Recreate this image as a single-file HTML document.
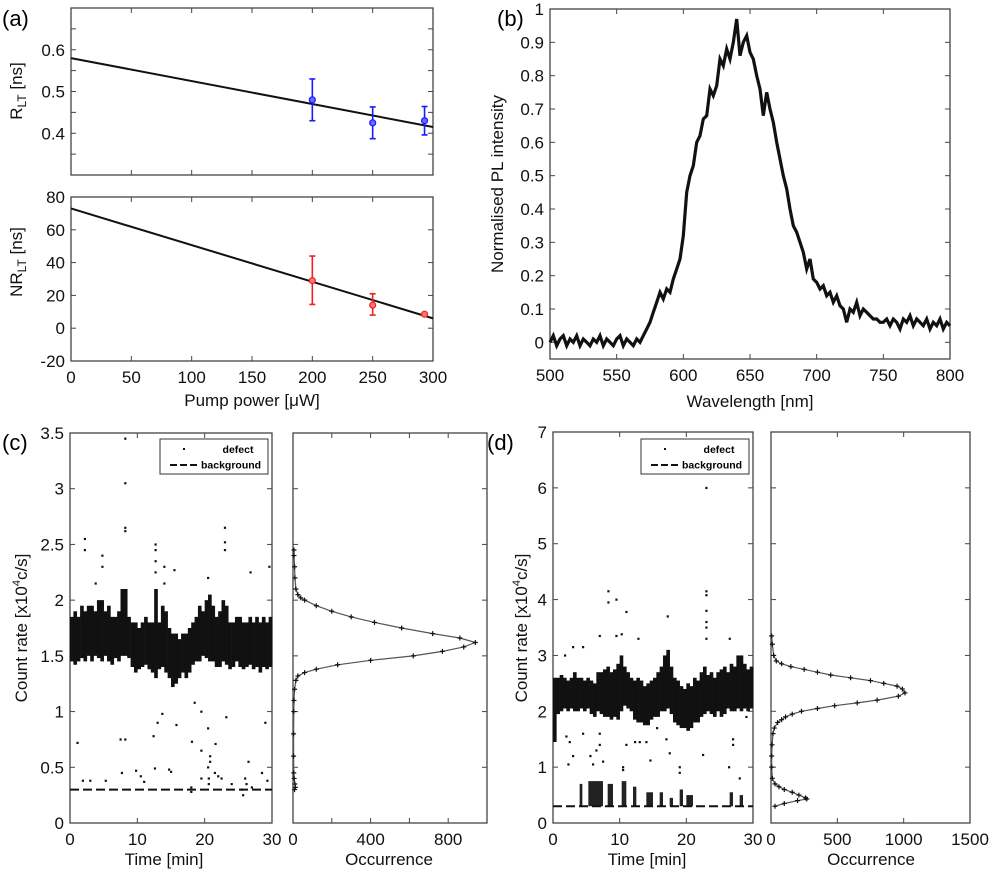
<!DOCTYPE html>
<html><head><meta charset="utf-8"><style>
html,body{margin:0;padding:0;background:#fff}
svg{display:block;font-family:"Liberation Sans",Arial,sans-serif}
</style></head><body>
<svg id="fig" width="990" height="870" viewBox="0 0 990 870" xmlns="http://www.w3.org/2000/svg">
<text x="2" y="26" font-size="22">(a)</text>
<text x="497" y="26" font-size="22">(b)</text>
<text x="2" y="450" font-size="22">(c)</text>
<text x="487" y="450" font-size="22">(d)</text>
</svg>
<script>
// ---------- data ----------
const powerA = [200, 250, 293];
const rltVals = [0.48, 0.425, 0.43];
const rltErr = [0.05, 0.038, 0.034];
const rltFit = [0.58, 0.415];
const nrVals = [29, 14, 8.5];
const nrLo = [14.5, 8, 7.5];
const nrHi = [44, 21, 9.5];
const nrFit = [73, 6];
const fitX = [0, 300];

const wlStart = 500, wlStep = 2.5;
const plVals = [0.00,0.02,-0.01,0.01,0.02,-0.01,0.01,0.00,0.02,-0.01,0.01,0.00,-0.01,0.01,0.00,0.02,-0.01,0.01,0.00,-0.01,0.01,0.02,-0.01,0.01,0.00,-0.01,0.01,0.00,0.02,0.04,0.06,0.09,0.12,0.15,0.13,0.16,0.15,0.19,0.22,0.25,0.32,0.45,0.50,0.53,0.60,0.62,0.67,0.68,0.76,0.74,0.77,0.85,0.83,0.88,0.85,0.90,0.97,0.86,0.90,0.92,0.87,0.85,0.80,0.76,0.68,0.75,0.70,0.66,0.60,0.55,0.50,0.46,0.40,0.35,0.33,0.30,0.27,0.22,0.25,0.19,0.18,0.16,0.17,0.14,0.15,0.12,0.14,0.11,0.10,0.06,0.10,0.09,0.12,0.08,0.10,0.09,0.08,0.07,0.07,0.06,0.06,0.07,0.05,0.07,0.06,0.04,0.07,0.06,0.08,0.05,0.07,0.06,0.05,0.07,0.04,0.06,0.05,0.07,0.04,0.06,0.05];

const binStep = 0.5;
const cLo = [1.45,1.42,1.45,1.48,1.45,1.5,1.45,1.5,1.48,1.45,1.5,1.45,1.42,1.48,1.45,1.5,1.5,1.48,1.4,1.35,1.38,1.4,1.42,1.38,1.35,1.3,1.38,1.4,1.35,1.3,1.22,1.25,1.3,1.35,1.3,1.35,1.42,1.45,1.45,1.5,1.48,1.45,1.45,1.4,1.4,1.45,1.42,1.38,1.4,1.45,1.4,1.38,1.4,1.42,1.38,1.4,1.35,1.4,1.38,1.4];
const cHi = [1.85,1.9,1.85,1.95,1.9,1.95,1.95,1.9,2.0,2.0,1.9,1.95,1.85,1.85,1.9,2.1,2.1,1.85,1.8,1.8,1.75,1.8,1.85,1.8,1.8,2.1,1.8,1.95,1.9,1.75,1.7,1.7,1.65,1.7,1.7,1.75,1.8,1.85,1.95,1.9,2.0,2.05,1.95,1.85,1.9,2.0,1.95,1.8,1.8,1.85,1.85,1.8,1.8,1.85,1.8,1.85,1.8,1.85,1.8,1.85];
const cOutT = [8.2,8.2,8.2,8.2,2.2,2.2,23,23,23,12.7,12.7,12.7,12.7,14,14,15.5,4.8,4.8,26.8,29.6,20.5,3.8,1.1,7.5,8.2,13,13.7,12.4,15.8,18.5,18.1,19.5,19.5,20.5,20.8,20.8,21.6,26.5,29,23.2,9.8,10.5,7.7,12.6,14.7,15,1.9,3,5.3,11,18,19.5,20.6,21.5,22.5,24,25.5,25.7,26.2,28.5,29.3,26,27,18,20.5,20.6,22];
const cOutV = [3.45,3.05,2.65,2.62,2.55,2.45,2.65,2.52,2.45,2.5,2.45,2.35,2.25,2.3,2.15,2.27,2.4,2.3,2.25,2.3,2.2,2.15,0.72,0.75,0.75,0.9,0.98,0.78,0.88,1.08,0.73,1.0,0.65,0.85,0.6,0.55,0.71,0.55,0.9,0.95,0.47,0.42,0.45,0.49,0.48,0.46,0.38,0.38,0.38,0.37,0.32,0.4,0.35,0.45,0.4,0.35,0.3,0.25,0.35,0.45,0.38,0.4,0.32,0.28,0.5,0.4,0.42];
const cBackground = 0.3;
const cHistRate = [2.45,2.4,2.3,2.2,2.1,2.05,2.02,2.0,1.95,1.9,1.85,1.8,1.75,1.7,1.66,1.62,1.58,1.54,1.5,1.46,1.42,1.38,1.35,1.32,1.28,1.2,1.1,1.0,0.8,0.6,0.45,0.4,0.35,0.32,0.3];
const cHistCount = [5,5,8,10,15,25,40,60,120,200,300,420,560,720,860,940,880,770,620,400,230,120,60,25,15,8,5,4,3,3,4,6,10,12,8];

const dLo = [1.45,1.95,2.0,2.05,2.0,2.05,2.0,2.0,2.05,2.0,2.05,1.95,1.9,2.0,1.95,1.9,1.9,1.85,1.9,1.85,2.0,2.1,2.05,2.0,1.85,1.8,1.8,1.75,1.75,1.85,1.9,1.9,2.0,2.0,2.05,1.95,1.8,1.75,1.7,1.7,1.65,1.7,1.8,1.8,1.9,1.95,2.0,1.95,1.9,2.0,1.9,1.95,2.05,2.0,2.0,2.05,2.0,2.05,2.0,2.05];
const dHi = [2.6,2.6,2.65,2.6,2.55,2.6,2.7,2.6,2.6,2.55,2.6,2.55,2.5,2.7,2.7,2.75,2.8,2.7,2.75,2.85,3.0,2.8,2.7,2.6,2.55,2.6,2.55,2.45,2.5,2.55,2.6,2.7,2.8,3.0,3.1,2.8,2.6,2.55,2.45,2.4,2.5,2.45,2.6,2.55,2.7,2.8,2.65,2.7,2.6,2.7,2.75,2.8,2.7,2.85,2.8,3.0,3.0,2.85,2.75,2.8];
const dLowStart = [4.0,5.3,8.2,10.3,12.0,14.0,16.0,17.5,19.0,20.0,26.5,28.0];
const dLowEnd = [4.4,7.5,9.0,11.0,12.5,15.0,16.5,18.0,19.5,21.0,27.0,28.5];
const dLowTop = [0.7,0.75,0.7,0.75,0.65,0.55,0.55,0.45,0.6,0.5,0.55,0.5];
const dOutT = [8.3,8.3,9.5,11,17.2,23,23,23,23,23,23,23,7,9.5,10.3,12.8,4.5,3,1.8,26.5,22.5,2,2.5,3,4.5,5.6,6,6.5,7,7,10.5,10.5,11,12.3,13,14,14.6,15.6,17,17.5,19,19,20,26.4,27,27,28,29,2.3,7.5];
const dOutV = [4.15,3.95,4.0,3.78,3.7,6.0,4.15,4.08,3.8,3.6,3.5,3.3,3.35,3.35,3.38,3.3,3.15,3.15,3.0,3.3,1.22,1.55,1.45,1.2,1.6,1.2,1.05,1.3,1.4,1.6,1.0,0.95,1.4,1.45,1.45,1.45,1.12,1.7,1.5,1.25,1.0,0.9,1.8,1.0,1.5,1.4,0.8,1.9,1.05,1.1];
const dBackground = 0.3;
const dHistRate = [3.35,3.2,3.0,2.9,2.85,2.8,2.75,2.7,2.65,2.6,2.55,2.5,2.45,2.4,2.33,2.27,2.2,2.15,2.1,2.05,2.0,1.95,1.9,1.85,1.8,1.7,1.6,1.4,1.2,1.0,0.8,0.7,0.65,0.6,0.55,0.5,0.45,0.43,0.4,0.35,0.3];
const dHistCount = [5,10,20,40,80,150,250,350,450,600,750,850,950,990,1010,960,800,650,480,350,230,160,110,80,50,25,15,8,5,5,10,30,60,100,160,210,260,270,200,100,30];

// ---------- helpers ----------
const NS = 'http://www.w3.org/2000/svg';
const svg = document.getElementById('fig');
function mk(tag, attrs, parent) {
  const e = document.createElementNS(NS, tag);
  for (const k in attrs) e.setAttribute(k, attrs[k]);
  (parent || svg).appendChild(e);
  return e;
}
function scale(d0, d1, r0, r1) { return v => r0 + (v - d0) / (d1 - d0) * (r1 - r0); }
function axes(name, px0, py0, px1, py1, xd, yd, xticks, yticks, xlabels, ylabels, fs) {
  const g = mk('g', {});
  
  
  const X = scale(xd[0], xd[1], px0, px1), Y = scale(yd[0], yd[1], py1, py0);
  xticks.forEach(t => {
    const x = X(t);
    mk('line', {x1: x, x2: x, y1: py1, y2: py1 - 5, stroke: '#444', 'stroke-width': 1}, g);
    mk('line', {x1: x, x2: x, y1: py0, y2: py0 + 5, stroke: '#444', 'stroke-width': 1}, g);
  });
  yticks.forEach(t => {
    const y = Y(t);
    mk('line', {x1: px0, x2: px0 + 5, y1: y, y2: y, stroke: '#444', 'stroke-width': 1}, g);
    mk('line', {x1: px1, x2: px1 - 5, y1: y, y2: y, stroke: '#444', 'stroke-width': 1}, g);
  });
  mk('rect', {x: px0, y: py0, width: px1 - px0, height: py1 - py0, fill: 'none', stroke: '#444', 'stroke-width': 1.3}, g);
  (xlabels || []).forEach(t => {
    const tx = mk('text', {x: X(t), y: py1 + 22, 'font-size': fs || 17, 'text-anchor': 'middle', fill: '#111'}, g);
    
    
    tx.textContent = String(t);
  });
  (ylabels || []).forEach(t => {
    const tx = mk('text', {x: px0 - 6, y: Y(t) + 6, 'font-size': fs || 17, 'text-anchor': 'end', fill: '#111'}, g);
    
    
    tx.textContent = String(t);
  });
  return {X, Y, g};
}
function label(txt, x, y, rot, name, fs) {
  const t = mk('text', {x, y, 'font-size': fs || 17, 'text-anchor': 'middle', fill: '#111'});
  if (rot) t.setAttribute('transform', `rotate(-90 ${x} ${y})`);
  
  
  t.innerHTML = txt;
  return t;
}
function range(a, b, s) { const r = []; for (let v = a; v <= b + 1e-9; v += s) r.push(+v.toFixed(6)); return r; }

// ---------- (a) top ----------
const aT = axes('rlt-axes', 71, 8, 433, 175, [0, 300], [0.3, 0.7], range(0, 300, 50), range(0.3, 0.7, 0.05), [], ['0.4', '0.5', '0.6'].map(Number));
mk('line', {x1: aT.X(fitX[0]), y1: aT.Y(rltFit[0]), x2: aT.X(fitX[1]), y2: aT.Y(rltFit[1]), stroke: '#111', 'stroke-width': 2}, aT.g);
powerA.forEach((p, i) => {
  const g = mk('g', {}, aT.g);
  
  
  const x = aT.X(p), y0 = aT.Y(rltVals[i] - rltErr[i]), y1 = aT.Y(rltVals[i] + rltErr[i]);
  mk('line', {x1: x, x2: x, y1: y0, y2: y1, stroke: '#1a1aff', 'stroke-width': 1.6}, g);
  mk('line', {x1: x - 3, x2: x + 3, y1: y0, y2: y0, stroke: '#1a1aff', 'stroke-width': 1.6}, g);
  mk('line', {x1: x - 3, x2: x + 3, y1: y1, y2: y1, stroke: '#1a1aff', 'stroke-width': 1.6}, g);
  mk('circle', {cx: x, cy: aT.Y(rltVals[i]), r: 3, fill: '#6a6aff', stroke: '#1a1aff', 'stroke-width': 1.2}, g);
});
label('R<tspan font-size="12" dy="4">LT</tspan><tspan dy="-4"> [ns]</tspan>', 22, 91, true, 'rlt-y-axis-title');

// ---------- (a) bottom ----------
const aB = axes('nrlt-axes', 71, 197, 433, 361, [0, 300], [-20, 80], range(0, 300, 50), range(-20, 80, 20), range(0, 300, 50), range(-20, 80, 20));
mk('line', {x1: aB.X(fitX[0]), y1: aB.Y(nrFit[0]), x2: aB.X(fitX[1]), y2: aB.Y(nrFit[1]), stroke: '#111', 'stroke-width': 2}, aB.g);
powerA.forEach((p, i) => {
  const g = mk('g', {}, aB.g);
  
  
  const x = aB.X(p), y0 = aB.Y(nrLo[i]), y1 = aB.Y(nrHi[i]);
  mk('line', {x1: x, x2: x, y1: y0, y2: y1, stroke: '#ee2222', 'stroke-width': 1.6}, g);
  mk('line', {x1: x - 3, x2: x + 3, y1: y0, y2: y0, stroke: '#ee2222', 'stroke-width': 1.6}, g);
  mk('line', {x1: x - 3, x2: x + 3, y1: y1, y2: y1, stroke: '#ee2222', 'stroke-width': 1.6}, g);
  mk('circle', {cx: x, cy: aB.Y(nrVals[i]), r: 3, fill: '#ff7777', stroke: '#ee2222', 'stroke-width': 1.2}, g);
});
label('NR<tspan font-size="12" dy="4">LT</tspan><tspan dy="-4"> [ns]</tspan>', 22, 262, true, 'nrlt-y-axis-title');
label('Pump power [μW]', 252, 406, false, 'x-axis-title-a');

// ---------- (b) ----------
const b = axes('pl-axes', 550, 9, 950, 359, [500, 800], [-0.05, 1], range(500, 800, 50), range(0, 1, 0.1), range(500, 800, 50), ['0','0.1','0.2','0.3','0.4','0.5','0.6','0.7','0.8','0.9','1'].map(Number));
const plPts = plVals.map((v, i) => `${b.X(wlStart + i * wlStep).toFixed(1)},${b.Y(v).toFixed(1)}`).join(' ');
mk('polyline', {points: plPts, fill: 'none', stroke: '#111', 'stroke-width': 3.2, 'stroke-linejoin': 'miter'}, b.g);
label('Normalised PL intensity', 503, 184, true, 'pl-y-axis-title');
label('Wavelength [nm]', 750, 407, false, 'x-axis-title-b');

// ---------- time-series panels ----------
function tsPanel(key, px0, px1, yMax, lo, hi, outT, outV, bg, hx0, hx1, hMax, hTicks, hLabels, hRate, hCount, lowS, lowE, lowT) {
  const top = 823 - yMax * (823 - (key === 'c' ? 433 : 432)) / yMax;
  const ts = axes(key + '-timeseries-axes', px0, key === 'c' ? 433 : 432, px1, 823, [0, 30], [0, yMax], range(0, 30, 10), range(0, yMax, key === 'c' ? 0.5 : 1), range(0, 30, 10), key === 'c' ? ['0','0.5','1','1.5','2','2.5','3','3.5'].map(Number) : range(0, 7, 1));
  lo.forEach((l, i) => {
    const x0 = ts.X(i * binStep), x1 = ts.X((i + 1) * binStep);
    const r = mk('rect', {x: x0, y: ts.Y(hi[i]), width: x1 - x0 + 0.3, height: ts.Y(l) - ts.Y(hi[i]), fill: '#111'}, ts.g);
    
    
  });
  if (lowS) lowS.forEach((s, i) => {
    const r = mk('rect', {x: ts.X(s), y: ts.Y(lowT[i]), width: ts.X(lowE[i]) - ts.X(s), height: ts.Y(bg) - ts.Y(lowT[i]), fill: '#222'}, ts.g);
    
    
  });
  outT.forEach((t, i) => {
    const r = mk('rect', {x: ts.X(t) - 1, y: ts.Y(outV[i]) - 1, width: 2.2, height: 2.2, fill: '#111'}, ts.g);
    
    
  });
  mk('line', {x1: ts.X(0), x2: ts.X(30), y1: ts.Y(bg), y2: ts.Y(bg), stroke: '#111', 'stroke-width': 2, 'stroke-dasharray': '9,4'}, ts.g);
  // legend
  const lx = px1 - 112, ly = 439;
  const lg = mk('g', {});
  
  
  mk('rect', {x: lx, y: ly, width: 108, height: 35, fill: '#fff', stroke: '#333', 'stroke-width': 1}, lg);
  mk('rect', {x: lx + 23, y: ly + 9, width: 2, height: 2, fill: '#111'}, lg);
  const t1 = mk('text', {x: lx + 78, y: ly + 14, 'font-size': 10.5, 'font-weight': 'bold', 'text-anchor': 'middle'}, lg); t1.textContent = 'defect';
  
  
  mk('line', {x1: lx + 10, x2: lx + 39, y1: ly + 26, y2: ly + 26, stroke: '#111', 'stroke-width': 2, 'stroke-dasharray': '7,3'}, lg);
  const t2 = mk('text', {x: lx + 41, y: ly + 29.5, 'font-size': 10.5, 'font-weight': 'bold'}, lg); t2.textContent = 'background';
  
  
  // histogram
  const hs = axes(key + '-histogram-axes', hx0, key === 'c' ? 433 : 432, hx1, 823, [0, hMax], [0, yMax], hTicks, range(0, yMax, key === 'c' ? 0.5 : 1), hLabels, []);
  const hp = hRate.map((r, i) => `${hs.X(hCount[i]).toFixed(1)},${hs.Y(r).toFixed(1)}`).join(' ');
  mk('polyline', {points: hp, fill: 'none', stroke: '#555', 'stroke-width': 1.2}, hs.g);
  hRate.forEach((r, i) => {
    const x = hs.X(hCount[i]), y = hs.Y(r);
    const m = mk('path', {d: `M${x - 2.5},${y}H${x + 2.5}M${x},${y - 2.5}V${y + 2.5}`, stroke: '#111', 'stroke-width': 1.2}, hs.g);
    
    
  });
  return {ts, hs};
}
tsPanel('c', 70, 272, 3.5, cLo, cHi, cOutT, cOutV, cBackground, 293, 487, 1000, range(0, 1000, 200), [0, 400, 800], cHistRate, cHistCount);
label('Count rate [x10<tspan font-size="11" dy="-7">4</tspan><tspan dy="7">c/s]</tspan>', 27, 628, true, 'c-y-axis-title');
label('Time [min]', 164, 865, false, 'c-x-axis-title');
label('Occurrence', 389, 865, false, 'c-hist-x-axis-title');

tsPanel('d', 553, 753, 7, dLo, dHi, dOutT, dOutV, dBackground, 771, 970, 1500, range(0, 1500, 500), [0, 500, 1000, 1500], dHistRate, dHistCount, dLowStart, dLowEnd, dLowTop);
label('Count rate [x10<tspan font-size="11" dy="-7">4</tspan><tspan dy="7">c/s]</tspan>', 527, 628, true, 'd-y-axis-title');
label('Time [min]', 647, 865, false, 'd-x-axis-title');
label('Occurrence', 871, 865, false, 'd-hist-x-axis-title');
</script>
</body></html>
